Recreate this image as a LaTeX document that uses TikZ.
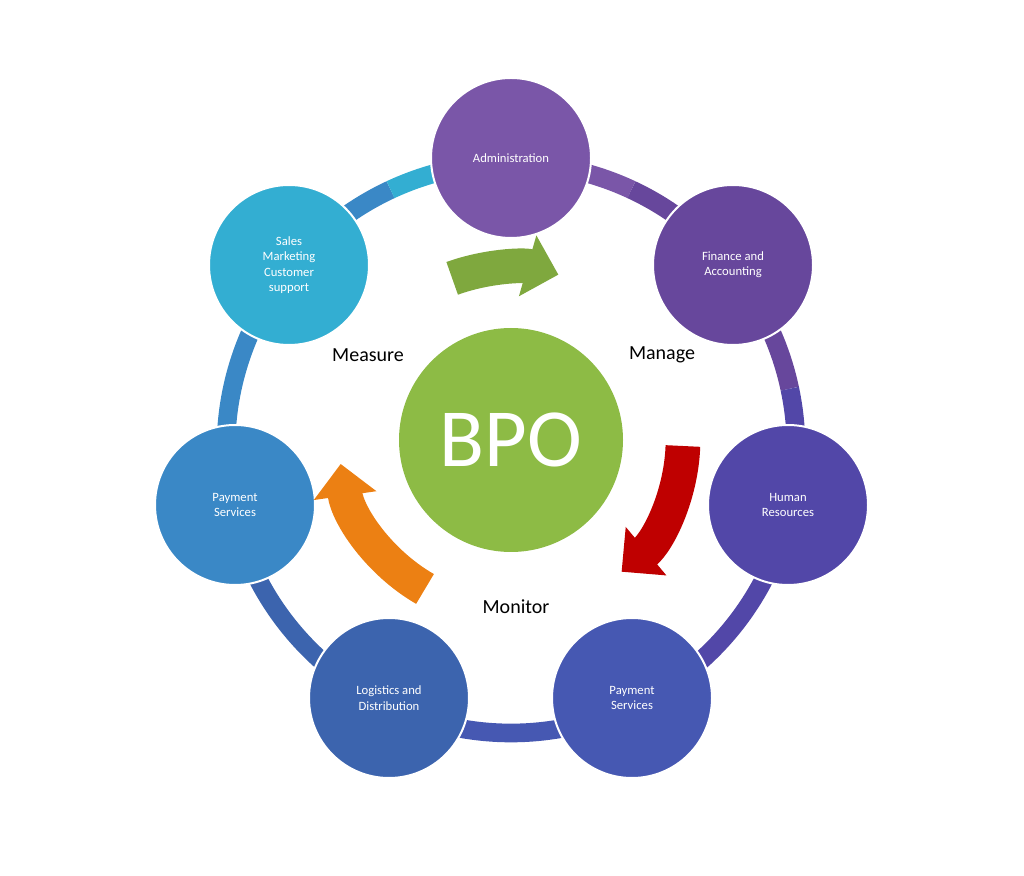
\documentclass[tikz,border=0pt]{standalone}
\usepackage{fontspec}
\setmainfont{Carlito}
\usetikzlibrary{arrows.meta}
\definecolor{cAdm}{HTML}{7A56A8}
\definecolor{cFin}{HTML}{67479C}
\definecolor{cHR}{HTML}{5247A8}
\definecolor{cPR}{HTML}{4658B2}
\definecolor{cLog}{HTML}{3C64AE}
\definecolor{cPL}{HTML}{3A88C6}
\definecolor{cSal}{HTML}{33AED2}
\definecolor{cBPO}{HTML}{8DBB45}
\tikzset{
  unit/.style={circle,minimum size=120pt,inner sep=0pt,text=white,align=center,font=\fontsize{9.5}{11.5}\selectfont,draw=white,line width=1.5pt},
  ringseg/.style={line width=14pt},
  cyc/.style={line width=26pt,-{Triangle[width=46pt,length=24pt]}},
  lbl/.style={font=\fontsize{15}{18}\selectfont}
}
\begin{document}
\begin{tikzpicture}[x=0.75pt,y=0.75pt]
\useasboundingbox (0,0) rectangle (1024,875);
\coordinate (rc) at (511,427);
\draw[ringseg,cAdm] ([shift={(90:285)}]rc) arc[start angle=90,end angle=65,radius=285];
\draw[ringseg,cFin] ([shift={(65:285)}]rc) arc[start angle=65,end angle=12,radius=285];
\draw[ringseg,cHR] ([shift={(12:285)}]rc) arc[start angle=12,end angle=-64,radius=285];
\draw[ringseg,cPR] ([shift={(-64:285)}]rc) arc[start angle=-64,end angle=-116,radius=285];
\draw[ringseg,cLog] ([shift={(-116:285)}]rc) arc[start angle=-116,end angle=-168,radius=285];
\draw[ringseg,cPL] ([shift={(-168:285)}]rc) arc[start angle=-168,end angle=-245,radius=285];
\draw[ringseg,cSal] ([shift={(-245:285)}]rc) arc[start angle=-245,end angle=-270,radius=285];
\node[unit,fill=cAdm] (adm) at (511,717) {Administration};
\node[unit,fill=cFin] (fin) at (733,610) {Finance and\\Accounting};
\node[unit,fill=cHR] (hr) at (788,370) {Human\\Resources};
\node[unit,fill=cPR] (pr) at (632,177) {Payment\\Services};
\node[unit,fill=cLog] (log) at (389,177) {Logistics and\\Distribution};
\node[unit,fill=cPL] (pl) at (235,370) {Payment\\Services};
\node[unit,fill=cSal] (sal) at (289,610) {Sales\\Marketing\\Customer\\support};
\node[circle,fill=cBPO,minimum size=168pt,inner sep=0pt,text=white,font=\fontsize{62}{70}\selectfont] (bpo) at (511,435) {BPO};
\coordinate (bc) at (511,435);
\draw[cyc,color=cBPO!90!black] ([shift={(110:172)}]bc) arc[start angle=110,end angle=74,radius=172];
\draw[cyc,color=red!75!black] ([shift={(-2:172)}]bc) arc[start angle=-2,end angle=-50,radius=172];
\draw[cyc,color=orange!70!brown] ([shift={(-120:172)}]bc) arc[start angle=-120,end angle=-172,radius=172];
\node[lbl] (mea) at (368,520) {Measure};
\node[lbl] (man) at (662,520) {Manage};
\node[lbl] (mon) at (516,268) {Monitor};
\end{tikzpicture}
\end{document}
